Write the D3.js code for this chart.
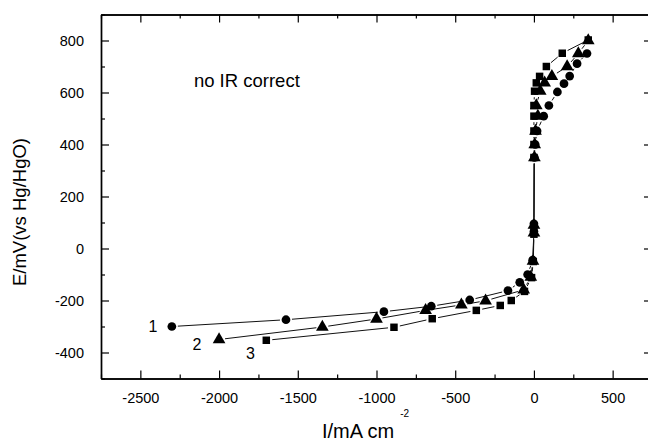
<!DOCTYPE html>
<html>
<head>
<meta charset="utf-8">
<script src="https://d3js.org/d3.v7.min.js"></script>
<style>
  body { margin: 0; background: #fff; }
  svg { display: block; font-family: "Liberation Sans", Arial, sans-serif; }
  .axis path { stroke: #000; stroke-width: 1.4px; }
  .axis line { stroke: #000; stroke-width: 1.2px; }
  .axis text { font-size: 14.5px; fill: #000; font-family: "Liberation Sans", Arial, sans-serif; }
  .curve { fill: none; stroke: #111; stroke-width: 1px; }
</style>
</head>
<body>
<svg id="chart" width="648" height="443"></svg>
<script>
// curve 1 (circles)
const s1I = [-2300, -1575, -953, -652, -408, -165, -90, -40, -8, 0, 0, 3, 8, 20, 62, 95, 149, 191, 227, 274, 337];
const s1E = [-300, -274, -243, -222, -198, -162, -130, -100, -45, 65, 95, 350, 400, 452, 509, 550, 602, 634, 663, 711, 750];
// curve 2 (triangles)
const s2I = [-2000, -1344, -1000, -688, -461, -307, -65, -20, -6, 0, 0, 3, 5, 10, 25, 15, 40, 68, 114, 211, 282, 345];
const s2E = [-350, -302, -271, -238, -217, -201, -159, -110, -48, 60, 90, 350, 400, 452, 509, 550, 605, 637, 662, 700, 750, 800];
// curve 3 (squares)
const s3I = [-1700, -889, -646, -366, -214, -144, -60, -15, -4, 0, 0, 0, 0, 0, 0, 0, 4, 15, 36, 79, 180, 345];
const s3E = [-353, -303, -270, -238, -219, -200, -165, -112, -50, 55, 85, 350, 400, 452, 509, 550, 605, 637, 662, 700, 751, 802];

const xTicks = [-2500, -2000, -1500, -1000, -500, 0, 500];
const yTicks = [-400, -200, 0, 200, 400, 600, 800];
const curveLabels = ["1", "2", "3"];

const svg = d3.select("#chart");
const margin = { left: 101, top: 14.5 };
const w = 551, h = 364;
const g = svg.append("g").attr("transform", "translate(" + margin.left + "," + margin.top + ")");

const x = d3.scaleLinear().domain([-2750, 750]).range([0, w]);
const y = d3.scaleLinear().domain([-500, 900]).range([h, 0]);

const xMinor = d3.range(-2750, 751, 250).filter(v => v % 500 !== 0);
const yMinor = d3.range(-500, 901, 100).filter(v => v % 200 !== 0);
const plain = d => String(d);

// frame + ticks (all ticks pointing inward)
g.append("g").attr("class", "axis").attr("transform", "translate(0," + h + ")")
  .call(d3.axisBottom(x).tickValues(xTicks).tickSizeInner(-8).tickSizeOuter(0).tickPadding(14).tickFormat(plain));
g.append("g").attr("class", "axis").attr("transform", "translate(0," + h + ")")
  .call(d3.axisBottom(x).tickValues(xMinor).tickSizeInner(-4).tickSizeOuter(0).tickFormat(""));
g.append("g").attr("class", "axis")
  .call(d3.axisTop(x).tickValues(xTicks).tickSizeInner(-8).tickSizeOuter(0).tickFormat(""));
g.append("g").attr("class", "axis")
  .call(d3.axisTop(x).tickValues(xMinor).tickSizeInner(-4).tickSizeOuter(0).tickFormat(""));
g.append("g").attr("class", "axis")
  .call(d3.axisLeft(y).tickValues(yTicks).tickSizeInner(-8).tickSizeOuter(0).tickPadding(17).tickFormat(plain));
g.append("g").attr("class", "axis")
  .call(d3.axisLeft(y).tickValues(yMinor).tickSizeInner(-4).tickSizeOuter(0).tickFormat(""));
g.append("g").attr("class", "axis").attr("transform", "translate(" + w + ",0)")
  .call(d3.axisRight(y).tickValues(yTicks).tickSizeInner(-8).tickSizeOuter(0).tickFormat(""));
g.append("g").attr("class", "axis").attr("transform", "translate(" + w + ",0)")
  .call(d3.axisRight(y).tickValues(yMinor).tickSizeInner(-4).tickSizeOuter(0).tickFormat(""));

// lines with gaps near the symbols (Origin style)
function gappedPath(xs, ys, gap) {
  let d = "";
  for (let i = 0; i < xs.length - 1; i++) {
    const x0 = x(xs[i]), y0 = y(ys[i]), x1 = x(xs[i + 1]), y1 = y(ys[i + 1]);
    const len = Math.hypot(x1 - x0, y1 - y0);
    if (len <= 2 * gap + 1) continue;
    const ux = (x1 - x0) / len, uy = (y1 - y0) / len;
    d += "M" + (x0 + ux * gap) + "," + (y0 + uy * gap) + "L" + (x1 - ux * gap) + "," + (y1 - uy * gap);
  }
  return d;
}

const series = [
  { xs: s1I, ys: s1E, sym: d3.symbolCircle, size: 60 },
  { xs: s2I, ys: s2E, sym: d3.symbolTriangle, size: 70 },
  { xs: s3I, ys: s3E, sym: d3.symbolSquare, size: 56 }
];

series.forEach(s => {
  g.append("path").attr("class", "curve").attr("d", gappedPath(s.xs, s.ys, 6));
});
series.forEach(s => {
  g.selectAll(null).data(s.xs.map((v, i) => [v, s.ys[i]]))
    .join("path")
    .attr("transform", d => "translate(" + x(d[0]) + "," + y(d[1]) + ")")
    .attr("d", d3.symbol().type(s.sym).size(s.size))
    .attr("fill", "#000");
});

// curve numbers
const labelPos = [[-2420, -300], [-2140, -370], [-1800, -405]];
g.selectAll("text.num").data(curveLabels).join("text")
  .attr("class", "num")
  .attr("x", (d, i) => x(labelPos[i][0]))
  .attr("y", (d, i) => y(labelPos[i][1]))
  .attr("dy", "0.35em")
  .attr("text-anchor", "middle")
  .style("font-size", "16px")
  .text(d => d);

// annotation
g.append("text")
  .attr("x", x(-2160)).attr("y", y(620))
  .style("font-size", "18.5px")
  .text("no IR correct");

// axis titles
svg.append("text")
  .attr("transform", "translate(26,212) rotate(-90)")
  .attr("text-anchor", "middle")
  .style("font-size", "18.5px")
  .text("E/mV(vs Hg/HgO)");

const xt = svg.append("text")
  .attr("x", 322).attr("y", 438)
  .style("font-size", "20px");
xt.append("tspan").text("I/mA cm");
xt.append("tspan").attr("dy", -21).attr("dx", 6).style("font-size", "10px").text("-2");
</script>
</body>
</html>
